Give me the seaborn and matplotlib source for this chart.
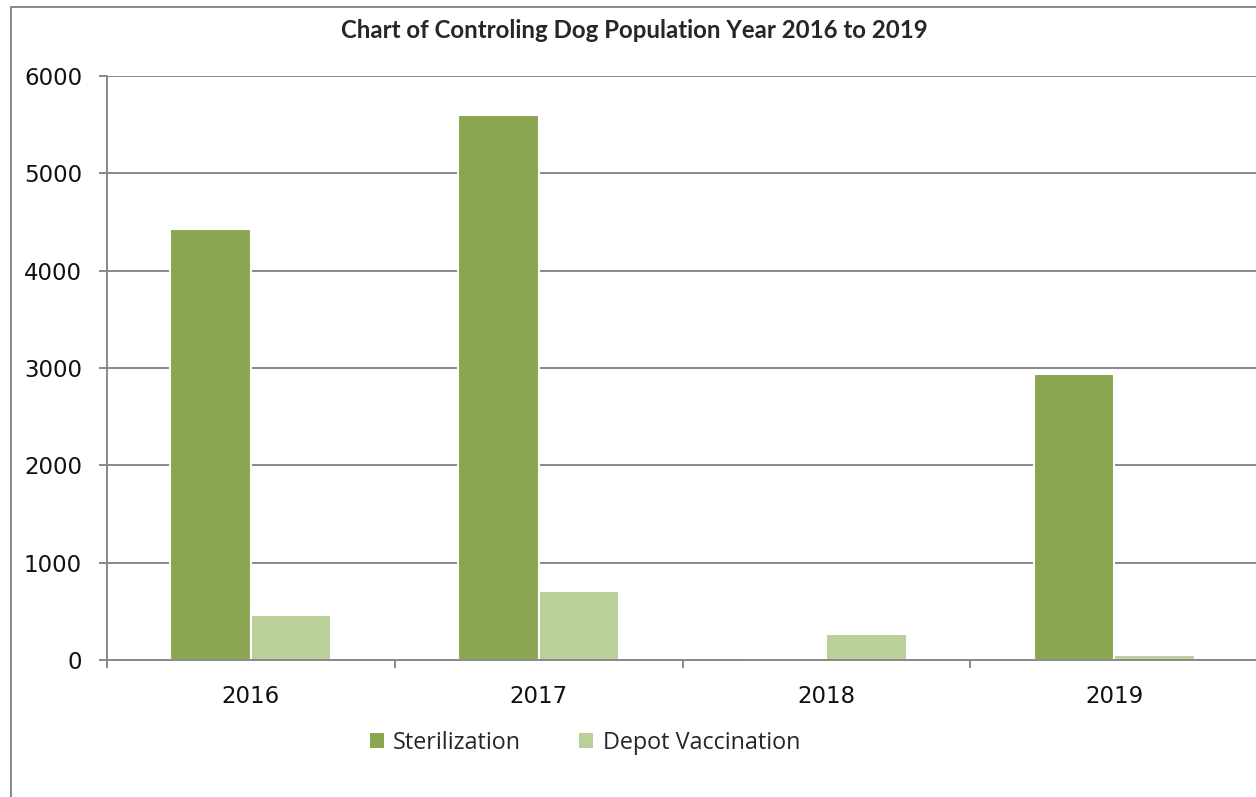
import matplotlib
matplotlib.use("Agg")
import matplotlib.pyplot as plt
from matplotlib.patches import Rectangle, Patch
import seaborn as sns
import pandas as pd

years = ["2016", "2017", "2018", "2019"]
sterilization = [4428, 5600, 0, 2938]
depot_vaccination = [462, 709, 267, 51]
series_names = ["Sterilization", "Depot Vaccination"]
colors = ["#8AA650", "#BBCF98"]

df = pd.DataFrame({
    "year": years * 2,
    "value": sterilization + depot_vaccination,
    "series": [series_names[0]] * 4 + [series_names[1]] * 4,
})

sns.set_style("white")
plt.rcParams["font.family"] = ["DejaVu Sans"]

fig = plt.figure(figsize=(12.56, 7.97), dpi=100)
ax = fig.add_axes([107 / 1256, 1 - 660 / 797, 1151 / 1256, (660 - 76) / 797])

sns.barplot(data=df, x="year", y="value", hue="series", palette=colors, saturation=1,
            width=0.56, edgecolor="white", linewidth=1.5, ax=ax, legend=False)

ax.set_xlim(-0.5, 3.5)
ax.set_ylim(0, 6000)
ax.set_yticks(range(0, 6001, 1000))
ax.yaxis.grid(True, color="#888888", linewidth=1.4)
ax.set_axisbelow(True)
ax.set_xlabel("")
ax.set_ylabel("")

for s in ["top", "right"]:
    ax.spines[s].set_visible(False)
for s in ["left", "bottom"]:
    ax.spines[s].set_color("#888888")
    ax.spines[s].set_linewidth(1.4)

ax.tick_params(axis="y", left=True, length=6, width=1.4, color="#888888",
               labelsize=16.5, labelcolor="#111111", pad=12)
ax.tick_params(axis="x", which="major", bottom=True, length=0, labelsize=16.5,
               labelcolor="#111111", pad=18)
ax.set_xticks([-0.5, 0.5, 1.5, 2.5], minor=True)
ax.tick_params(axis="x", which="minor", bottom=True, length=6, width=1.4, color="#888888")

fig.text(0.5 * (338 + 930) / 1256, 1 - 30 / 797,
         "Chart of Controling Dog Population Year 2016 to 2019",
         ha="center", va="center", fontsize=17.3, fontweight="bold",
         family=["Lato", "DejaVu Sans"])

handles = [Patch(facecolor=c, edgecolor="none") for c in colors]
fig.legend(handles, series_names, loc="center", bbox_to_anchor=(585 / 1256, 1 - 743 / 797),
           ncol=2, frameon=False, handlelength=0.6, handleheight=0.6,
           handletextpad=0.4, columnspacing=2.5,
           prop={"family": ["Open Sans", "DejaVu Sans"], "size": 16.8})

fig.patches.append(Rectangle((11 / 1256, -0.05), 1.2, 1 - 7 / 797 + 0.05,
                             transform=fig.transFigure, fill=False,
                             edgecolor="#888888", linewidth=1.4))

fig.savefig("out.png", dpi=100)
